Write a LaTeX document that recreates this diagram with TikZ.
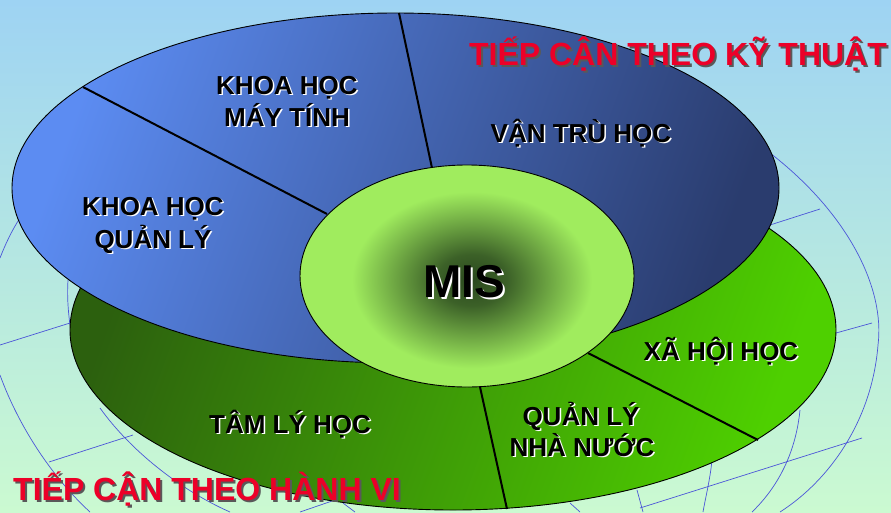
\documentclass[tikz,border=0pt]{standalone}
\usepackage{fontspec}
\setmainfont{Liberation Sans}
\definecolor{bgtop}{RGB}{158,211,243}
\definecolor{bgbot}{RGB}{203,250,209}
\definecolor{globe}{RGB}{75,85,216}
\definecolor{bluelt}{RGB}{92,140,242}
\definecolor{bluedk}{RGB}{42,60,110}
\definecolor{greendk}{RGB}{44,96,14}
\definecolor{greenlt}{RGB}{78,208,0}
\definecolor{coreg}{RGB}{160,236,94}
\definecolor{coredk}{RGB}{42,72,30}
\definecolor{titlered}{RGB}{236,0,40}
\pgfdeclareradialshading{coreshade}{\pgfpoint{0bp}{0bp}}{color(0bp)=(coredk); color(7bp)=(coredk!85!coreg); color(24bp)=(coreg); color(50bp)=(coreg)}
\tikzset{
  globeline/.style={draw=globe, line width=0.7pt},
  rim/.style={draw=black, line width=0.9pt},
  divider/.style={draw=black, line width=2pt},
  lbl/.style={font=\fontsize{26}{30}\selectfont\bfseries, text=black, inner sep=0pt, anchor=base},
  lblsh/.style={lbl, text=white, xshift=1.5pt, yshift=-1.5pt},
  ttl/.style={font=\fontsize{32}{36}\selectfont\bfseries, text=titlered, inner sep=0pt, anchor=base},
  ttlsh/.style={ttl, text=black!65, xshift=2pt, yshift=-2pt},
  bigl/.style={font=\fontsize{46}{50}\selectfont\bfseries, text=black, inner sep=0pt, anchor=base},
  biglsh/.style={bigl, text=white, xshift=2pt, yshift=-2pt},
}
\newcommand{\shlabel}[3]{\node[lblsh] at (#1) {#3}; \node[lbl] (#2) at (#1) {#3};}
\begin{document}
\begin{tikzpicture}[x=1pt,y=-1pt]
\useasboundingbox (0,0) rectangle (891,512);
\shade[top color=bgtop, bottom color=bgbot] (0,0) rectangle (891,512);
% globe wireframe
\begin{scope}[globeline]
\draw (20,218) .. controls (12,230) and (5,245) .. (0,258);
\draw (68,280) .. controls (67,295) and (68,310) .. (70,325);
\draw (0,375) .. controls (20,430) and (55,480) .. (90,512);
\draw (100,408) .. controls (130,450) and (180,490) .. (230,512);
\draw (0,345) -- (70,323);
\draw (49,462) -- (133,435);
\draw (770,153) .. controls (850,215) and (885,290) .. (878,345) .. controls (872,420) and (830,480) .. (780,512);
\draw (770,225) -- (820,209);
\draw (836,333) -- (872,323);
\draw (640,508) -- (862,438);
\draw (800,410) .. controls (796,450) and (780,485) .. (752,512);
\draw (712,460) .. controls (710,480) and (706,495) .. (703,512);
\draw (637,490) -- (643,512);
\draw (570,503) -- (580,512);
\draw (300,512) -- (335,500);
\draw (343,503) -- (355,512);
\end{scope}
% green ellipse
\shade[top color=greendk, bottom color=greenlt, shading angle=70] (453,330) ellipse [x radius=383pt, y radius=180pt];
\draw[rim] (453,330) ellipse [x radius=383pt, y radius=180pt];
\draw[divider] (480,387) -- (507,509);
\draw[divider] (588,353) -- (758,440);
% blue ellipse
\shade[top color=bluelt, bottom color=bluedk, shading angle=70] (395.5,188) ellipse [x radius=383.5pt, y radius=175pt];
\draw[rim] (395.5,188) ellipse [x radius=383.5pt, y radius=175pt];
\draw[divider] (83,87) -- (327,214);
\draw[divider] (399,13) -- (432,168);
% core ellipse
\fill[coreg] (467,276) ellipse [x radius=167pt, y radius=111pt];
\begin{scope}
\clip (467,276) ellipse [x radius=167pt, y radius=111pt];
\shade[shading=coreshade] (472,280) ellipse [x radius=125pt, y radius=92pt];
\end{scope}
\draw[rim] (467,276) ellipse [x radius=167pt, y radius=111pt];
% labels
\shlabel{287,94}{kh1}{KHOA HỌC}
\shlabel{287,126}{kh2}{MÁY TÍNH}
\shlabel{153,215}{ql1}{KHOA HỌC}
\shlabel{153,248}{ql2}{QUẢN LÝ}
\shlabel{581,142}{vt}{VẬN TRÙ HỌC}
\shlabel{721,360}{xh}{XÃ HỘI HỌC}
\shlabel{581,425}{nn1}{QUẢN LÝ}
\shlabel{582,456}{nn2}{NHÀ NƯỚC}
\shlabel{290,433}{tl}{TÂM LÝ HỌC}
\node[biglsh] at (464,297) {MIS};
\node[bigl] (mis) at (464,297) {MIS};
\node[ttlsh] at (678,65) {TIẾP CẬN THEO KỸ THUẬT};
\node[ttl] (t1) at (678,65) {TIẾP CẬN THEO KỸ THUẬT};
\node[ttlsh] at (207,500) {TIẾP CẬN THEO HÀNH VI};
\node[ttl] (t2) at (207,500) {TIẾP CẬN THEO HÀNH VI};
\end{tikzpicture}
\end{document}
